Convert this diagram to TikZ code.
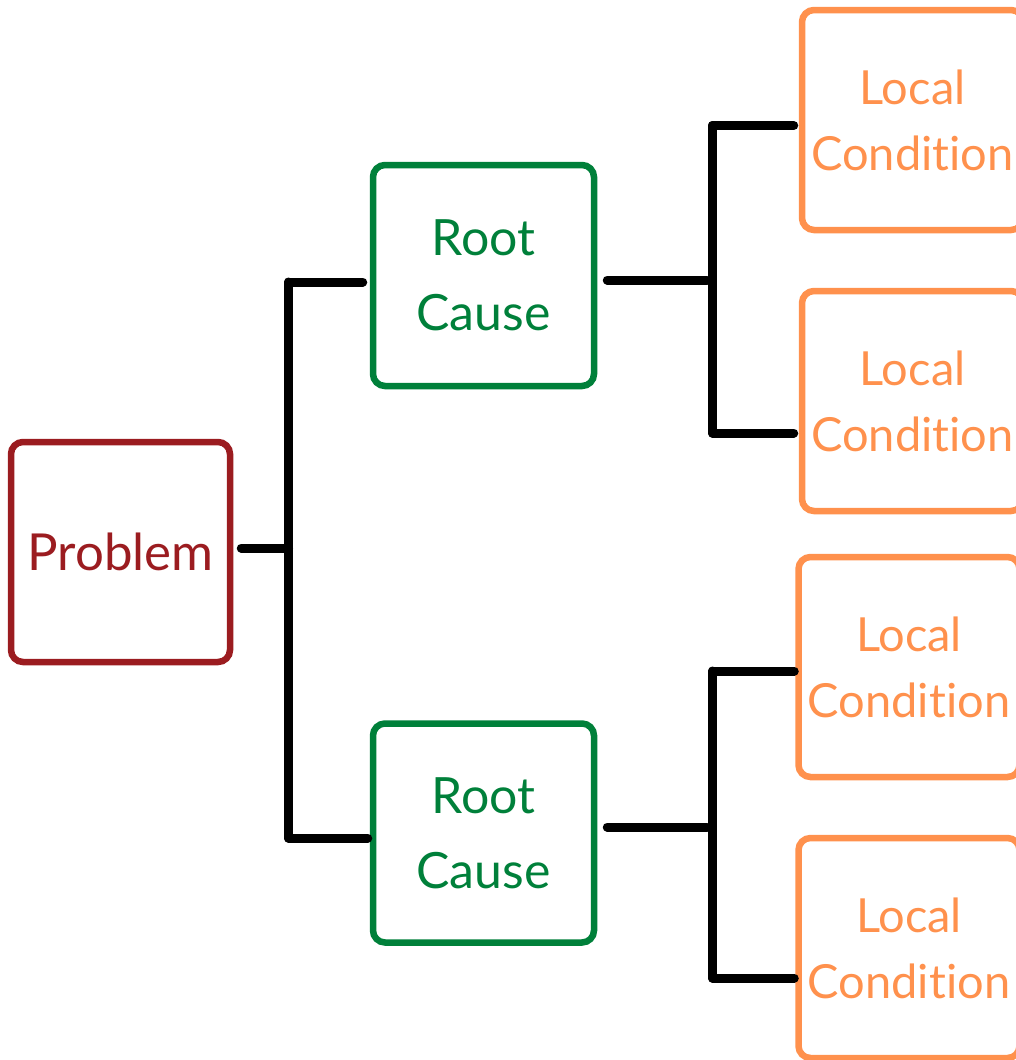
\documentclass[tikz,border=0pt]{standalone}
\usepackage{fontspec}
\setmainfont[Ligatures={NoCommon,NoRare}]{Lato}
\definecolor{probred}{RGB}{155,28,32}
\definecolor{rootgreen}{RGB}{0,128,58}
\definecolor{localorange}{RGB}{255,145,77}
\begin{document}
\begin{tikzpicture}[x=1pt,y=-1pt,
  box/.style={draw, rectangle, rounded corners=12pt, line width=6.5pt,
    minimum width=221pt, minimum height=221pt, align=center, inner sep=0pt},
  probbox/.style={box, draw=probred, text=probred, font=\fontsize{51}{75}\selectfont},
  rootbox/.style={box, draw=rootgreen, text=rootgreen, font=\fontsize{50}{75}\selectfont},
  localbox/.style={box, draw=localorange, text=localorange, font=\fontsize{47}{66}\selectfont},
  conn/.style={line width=9pt, line cap=round, black}]
\useasboundingbox (0,0) rectangle (1016,1060);

% boxes
\node[probbox, minimum width=219pt, minimum height=220pt] (prob) at (120.5,552) {Problem};
\node[rootbox] (rc1) at (483.5,275.5) {Root\\Cause};
\node[rootbox, minimum height=219pt] (rc2) at (483.5,833) {Root\\Cause};
\node[localbox, minimum height=220pt] (lc1) at (912.5,120) {Local\\Condition};
\node[localbox, minimum height=220pt] (lc2) at (912.5,401) {Local\\Condition};
\node[localbox, minimum height=220pt] (lc3) at (909,667) {Local\\Condition};
\node[localbox, minimum height=220pt] (lc4) at (909,948) {Local\\Condition};

% bracket joining the problem to its root causes
\coordinate (b1m) at (288.5,548);
\coordinate (b1t) at (288.5,282);
\coordinate (b1b) at (288.5,838);
\draw[conn, shorten <=8pt] (prob.east |- b1m) -- (b1m);
\draw[conn] (b1t) -- (b1b);
\draw[conn, shorten >=7pt] (b1t) -- (b1t -| rc1.west);
\draw[conn, shorten >=2pt] (b1b) -- (b1b -| rc2.west);

% bracket joining the first root cause to its local conditions
\coordinate (b2m) at (707,280);
\coordinate (b2t) at (712.5,125.5);
\coordinate (b2b) at (712.5,433);
\draw[conn, shorten <=10pt] (rc1.east |- b2m) -- (b2m);
\draw[conn] (b2t) -- (b2b);
\draw[conn, shorten >=5pt] (b2t) -- (b2t -| lc1.west);
\draw[conn, shorten >=5pt] (b2b) -- (b2b -| lc2.west);

% bracket joining the second root cause to its local conditions
\coordinate (b3m) at (707,827);
\coordinate (b3t) at (712.5,671);
\coordinate (b3b) at (712.5,978);
\draw[conn, shorten <=10pt] (rc2.east |- b3m) -- (b3m);
\draw[conn] (b3t) -- (b3b);
\draw[conn, shorten >=1pt] (b3t) -- (b3t -| lc3.west);
\draw[conn, shorten >=1pt] (b3b) -- (b3b -| lc4.west);
\end{tikzpicture}
\end{document}
